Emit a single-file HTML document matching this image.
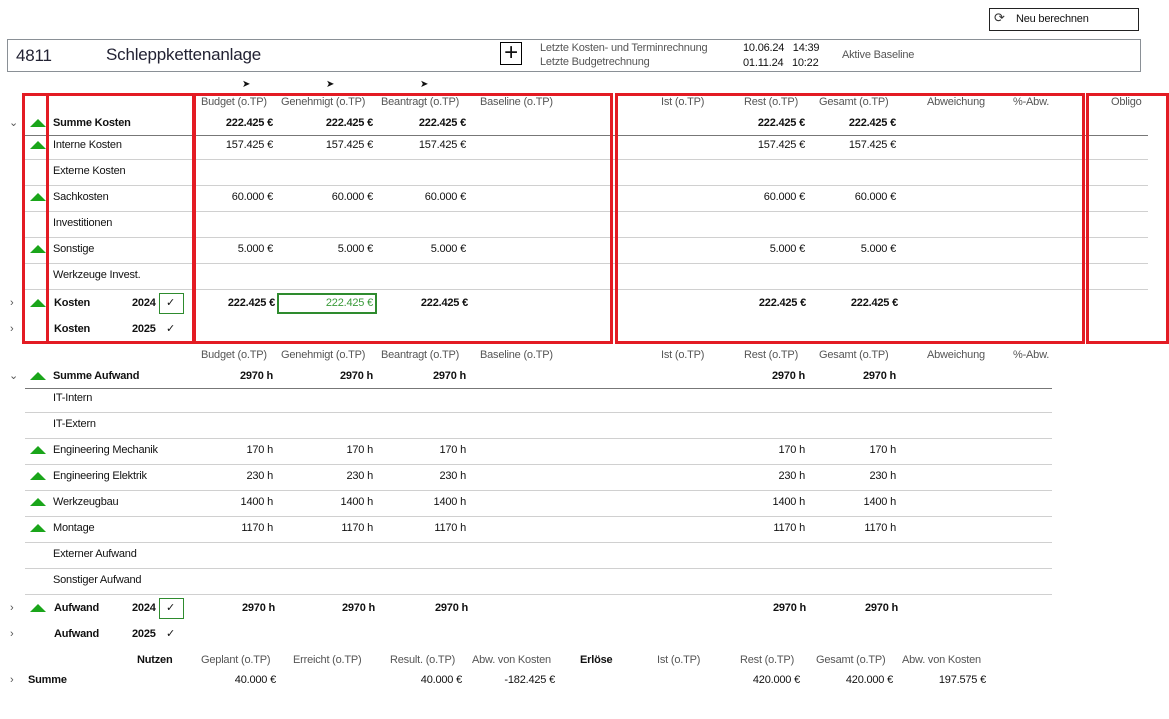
<!DOCTYPE html>
<html><head><meta charset="utf-8"><style>
*{margin:0;padding:0;box-sizing:border-box}
body{width:1169px;height:719px;background:#fff;position:relative;overflow:hidden;font-family:"Liberation Sans",sans-serif;font-size:11px;color:#111}
.t{position:absolute;line-height:14px;white-space:nowrap;letter-spacing:-0.2px}
.r{text-align:right;width:140px}
.h{color:#555}
.b{font-weight:bold}
.ln{position:absolute;height:1px;background:#d0d0d0}
.dk{background:#777}
.tri{position:absolute;width:0;height:0;border-left:8px solid transparent;border-right:8px solid transparent;border-bottom:8px solid #1aa51a}
.red{position:absolute;border:3px solid #e31b23}
.chev{position:absolute;color:#555;font-size:11px;line-height:14px}
</style></head><body>
<div style="position:absolute;left:989px;top:8px;width:150px;height:23px;border:1px solid #222"></div>
<div class="t" style="left:994px;top:11px;font-size:13px;color:#333">⟳</div>
<div class="t" style="left:1016px;top:12px">Neu berechnen</div>
<div style="position:absolute;left:7px;top:39px;width:1134px;height:33px;border:1px solid #8a9096"></div>
<div class="t" style="left:16px;top:47px;font-size:17px;line-height:18px;color:#223">4811</div>
<div class="t" style="left:106px;top:46px;font-size:17px;line-height:18px;color:#223">Schleppkettenanlage</div>
<div style="position:absolute;left:500px;top:42px;width:22px;height:23px;border:1px solid #000"></div>
<div class="t" style="left:501px;top:41px;font-size:24px;line-height:24px;width:20px;text-align:center">+</div>
<div class="t h" style="left:540px;top:41px">Letzte Kosten- und Terminrechnung</div>
<div class="t h" style="left:540px;top:55px">Letzte Budgetrechnung</div>
<div class="t" style="left:743px;top:41px">10.06.24 &nbsp;&nbsp;14:39</div>
<div class="t" style="left:743px;top:56px">01.11.24 &nbsp;&nbsp;10:22</div>
<div class="t h" style="left:842px;top:48px">Aktive Baseline</div>
<div class="t" style="left:242px;top:78px;font-size:10px">➤</div>
<div class="t" style="left:326px;top:78px;font-size:10px">➤</div>
<div class="t" style="left:420px;top:78px;font-size:10px">➤</div>

<!-- Kosten headers -->
<div class="t h" style="left:201px;top:95px">Budget (o.TP)</div>
<div class="t h" style="left:281px;top:95px">Genehmigt (o.TP)</div>
<div class="t h" style="left:381px;top:95px">Beantragt (o.TP)</div>
<div class="t h" style="left:480px;top:95px">Baseline (o.TP)</div>
<div class="t h" style="left:661px;top:95px">Ist (o.TP)</div>
<div class="t h" style="left:744px;top:95px">Rest (o.TP)</div>
<div class="t h" style="left:819px;top:95px">Gesamt (o.TP)</div>
<div class="t h" style="left:927px;top:95px">Abweichung</div>
<div class="t h" style="left:1013px;top:95px">%-Abw.</div>
<div class="t h" style="left:1111px;top:95px">Obligo</div>

<div class="ln dk" style="left:25px;top:135px;width:1123px"></div>
<div class="ln" style="left:25px;top:159px;width:1123px"></div>
<div class="ln" style="left:25px;top:185px;width:1123px"></div>
<div class="ln" style="left:25px;top:211px;width:1123px"></div>
<div class="ln" style="left:25px;top:237px;width:1123px"></div>
<div class="ln" style="left:25px;top:263px;width:1123px"></div>
<div class="ln" style="left:25px;top:289px;width:1123px"></div>

<div class="chev" style="left:9px;top:116px">⌄</div>
<div class="tri" style="left:30px;top:119px"></div>
<div class="t b" style="left:53px;top:116px">Summe Kosten</div>
<div class="t r b" style="left:133px;top:116px">222.425 €</div>
<div class="t r b" style="left:233px;top:116px">222.425 €</div>
<div class="t r b" style="left:326px;top:116px">222.425 €</div>
<div class="t r b" style="left:665px;top:116px">222.425 €</div>
<div class="t r b" style="left:756px;top:116px">222.425 €</div>

<div class="tri" style="left:30px;top:141px"></div>
<div class="t" style="left:53px;top:138px">Interne Kosten</div>
<div class="t r" style="left:133px;top:138px">157.425 €</div>
<div class="t r" style="left:233px;top:138px">157.425 €</div>
<div class="t r" style="left:326px;top:138px">157.425 €</div>
<div class="t r" style="left:665px;top:138px">157.425 €</div>
<div class="t r" style="left:756px;top:138px">157.425 €</div>

<div class="t" style="left:53px;top:164px">Externe Kosten</div>

<div class="tri" style="left:30px;top:193px"></div>
<div class="t" style="left:53px;top:190px">Sachkosten</div>
<div class="t r" style="left:133px;top:190px">60.000 €</div>
<div class="t r" style="left:233px;top:190px">60.000 €</div>
<div class="t r" style="left:326px;top:190px">60.000 €</div>
<div class="t r" style="left:665px;top:190px">60.000 €</div>
<div class="t r" style="left:756px;top:190px">60.000 €</div>

<div class="t" style="left:53px;top:216px">Investitionen</div>

<div class="tri" style="left:30px;top:245px"></div>
<div class="t" style="left:53px;top:242px">Sonstige</div>
<div class="t r" style="left:133px;top:242px">5.000 €</div>
<div class="t r" style="left:233px;top:242px">5.000 €</div>
<div class="t r" style="left:326px;top:242px">5.000 €</div>
<div class="t r" style="left:665px;top:242px">5.000 €</div>
<div class="t r" style="left:756px;top:242px">5.000 €</div>

<div class="t" style="left:53px;top:268px">Werkzeuge Invest.</div>

<div class="chev" style="left:10px;top:296px">›</div>
<div class="tri" style="left:30px;top:299px"></div>
<div class="t b" style="left:54px;top:296px">Kosten</div>
<div class="t b" style="left:132px;top:296px">2024</div>
<div style="position:absolute;left:159px;top:293px;width:25px;height:21px;border:1px solid #2e8b2e"></div>
<div class="t" style="left:166px;top:296px">✓</div>
<div class="t r b" style="left:135px;top:296px">222.425 €</div>
<div style="position:absolute;left:277px;top:293px;width:100px;height:21px;border:2px solid #2e8b2e"></div>
<div class="t r" style="left:233px;top:296px;color:#3a9a3a">222.425 €</div>
<div class="t r b" style="left:328px;top:296px">222.425 €</div>
<div class="t r b" style="left:666px;top:296px">222.425 €</div>
<div class="t r b" style="left:758px;top:296px">222.425 €</div>

<div class="chev" style="left:10px;top:322px">›</div>
<div class="t b" style="left:54px;top:322px">Kosten</div>
<div class="t b" style="left:132px;top:322px">2025</div>
<div class="t" style="left:166px;top:322px">✓</div>

<div class="red" style="left:22px;top:93px;width:27px;height:251px"></div>
<div class="red" style="left:46px;top:93px;width:149px;height:251px"></div>
<div class="red" style="left:193px;top:93px;width:420px;height:251px"></div>
<div class="red" style="left:615px;top:93px;width:470px;height:251px"></div>
<div class="red" style="left:1086px;top:93px;width:83px;height:251px"></div>

<!-- Aufwand -->
<div class="t h" style="left:201px;top:348px">Budget (o.TP)</div>
<div class="t h" style="left:281px;top:348px">Genehmigt (o.TP)</div>
<div class="t h" style="left:381px;top:348px">Beantragt (o.TP)</div>
<div class="t h" style="left:480px;top:348px">Baseline (o.TP)</div>
<div class="t h" style="left:661px;top:348px">Ist (o.TP)</div>
<div class="t h" style="left:744px;top:348px">Rest (o.TP)</div>
<div class="t h" style="left:819px;top:348px">Gesamt (o.TP)</div>
<div class="t h" style="left:927px;top:348px">Abweichung</div>
<div class="t h" style="left:1013px;top:348px">%-Abw.</div>

<div class="ln dk" style="left:25px;top:388px;width:1027px"></div>
<div class="ln" style="left:25px;top:412px;width:1027px"></div>
<div class="ln" style="left:25px;top:438px;width:1027px"></div>
<div class="ln" style="left:25px;top:464px;width:1027px"></div>
<div class="ln" style="left:25px;top:490px;width:1027px"></div>
<div class="ln" style="left:25px;top:516px;width:1027px"></div>
<div class="ln" style="left:25px;top:542px;width:1027px"></div>
<div class="ln" style="left:25px;top:568px;width:1027px"></div>
<div class="ln" style="left:25px;top:594px;width:1027px"></div>

<div class="chev" style="left:9px;top:369px">⌄</div>
<div class="tri" style="left:30px;top:372px"></div>
<div class="t b" style="left:53px;top:369px">Summe Aufwand</div>
<div class="t r b" style="left:133px;top:369px">2970 h</div>
<div class="t r b" style="left:233px;top:369px">2970 h</div>
<div class="t r b" style="left:326px;top:369px">2970 h</div>
<div class="t r b" style="left:665px;top:369px">2970 h</div>
<div class="t r b" style="left:756px;top:369px">2970 h</div>

<div class="t" style="left:53px;top:391px">IT-Intern</div>
<div class="t" style="left:53px;top:417px">IT-Extern</div>

<div class="tri" style="left:30px;top:446px"></div>
<div class="t" style="left:53px;top:443px">Engineering Mechanik</div>
<div class="t r" style="left:133px;top:443px">170 h</div>
<div class="t r" style="left:233px;top:443px">170 h</div>
<div class="t r" style="left:326px;top:443px">170 h</div>
<div class="t r" style="left:665px;top:443px">170 h</div>
<div class="t r" style="left:756px;top:443px">170 h</div>

<div class="tri" style="left:30px;top:472px"></div>
<div class="t" style="left:53px;top:469px">Engineering Elektrik</div>
<div class="t r" style="left:133px;top:469px">230 h</div>
<div class="t r" style="left:233px;top:469px">230 h</div>
<div class="t r" style="left:326px;top:469px">230 h</div>
<div class="t r" style="left:665px;top:469px">230 h</div>
<div class="t r" style="left:756px;top:469px">230 h</div>

<div class="tri" style="left:30px;top:498px"></div>
<div class="t" style="left:53px;top:495px">Werkzeugbau</div>
<div class="t r" style="left:133px;top:495px">1400 h</div>
<div class="t r" style="left:233px;top:495px">1400 h</div>
<div class="t r" style="left:326px;top:495px">1400 h</div>
<div class="t r" style="left:665px;top:495px">1400 h</div>
<div class="t r" style="left:756px;top:495px">1400 h</div>

<div class="tri" style="left:30px;top:524px"></div>
<div class="t" style="left:53px;top:521px">Montage</div>
<div class="t r" style="left:133px;top:521px">1170 h</div>
<div class="t r" style="left:233px;top:521px">1170 h</div>
<div class="t r" style="left:326px;top:521px">1170 h</div>
<div class="t r" style="left:665px;top:521px">1170 h</div>
<div class="t r" style="left:756px;top:521px">1170 h</div>

<div class="t" style="left:53px;top:547px">Externer Aufwand</div>
<div class="t" style="left:53px;top:573px">Sonstiger Aufwand</div>

<div class="chev" style="left:10px;top:601px">›</div>
<div class="tri" style="left:30px;top:604px"></div>
<div class="t b" style="left:54px;top:601px">Aufwand</div>
<div class="t b" style="left:132px;top:601px">2024</div>
<div style="position:absolute;left:159px;top:598px;width:25px;height:21px;border:1px solid #2e8b2e"></div>
<div class="t" style="left:166px;top:601px">✓</div>
<div class="t r b" style="left:135px;top:601px">2970 h</div>
<div class="t r b" style="left:235px;top:601px">2970 h</div>
<div class="t r b" style="left:328px;top:601px">2970 h</div>
<div class="t r b" style="left:666px;top:601px">2970 h</div>
<div class="t r b" style="left:758px;top:601px">2970 h</div>

<div class="chev" style="left:10px;top:627px">›</div>
<div class="t b" style="left:54px;top:627px">Aufwand</div>
<div class="t b" style="left:132px;top:627px">2025</div>
<div class="t" style="left:166px;top:627px">✓</div>

<!-- Nutzen -->
<div class="t b" style="left:137px;top:653px">Nutzen</div>
<div class="t h" style="left:201px;top:653px">Geplant (o.TP)</div>
<div class="t h" style="left:293px;top:653px">Erreicht (o.TP)</div>
<div class="t h" style="left:390px;top:653px">Result. (o.TP)</div>
<div class="t h" style="left:472px;top:653px">Abw. von Kosten</div>
<div class="t b" style="left:580px;top:653px">Erlöse</div>
<div class="t h" style="left:657px;top:653px">Ist (o.TP)</div>
<div class="t h" style="left:740px;top:653px">Rest (o.TP)</div>
<div class="t h" style="left:816px;top:653px">Gesamt (o.TP)</div>
<div class="t h" style="left:902px;top:653px">Abw. von Kosten</div>

<div class="chev" style="left:10px;top:673px">›</div>
<div class="t b" style="left:28px;top:673px">Summe</div>
<div class="t r" style="left:136px;top:673px">40.000 €</div>
<div class="t r" style="left:322px;top:673px">40.000 €</div>
<div class="t r" style="left:415px;top:673px">-182.425 €</div>
<div class="t r" style="left:660px;top:673px">420.000 €</div>
<div class="t r" style="left:753px;top:673px">420.000 €</div>
<div class="t r" style="left:846px;top:673px">197.575 €</div>
</body></html>
